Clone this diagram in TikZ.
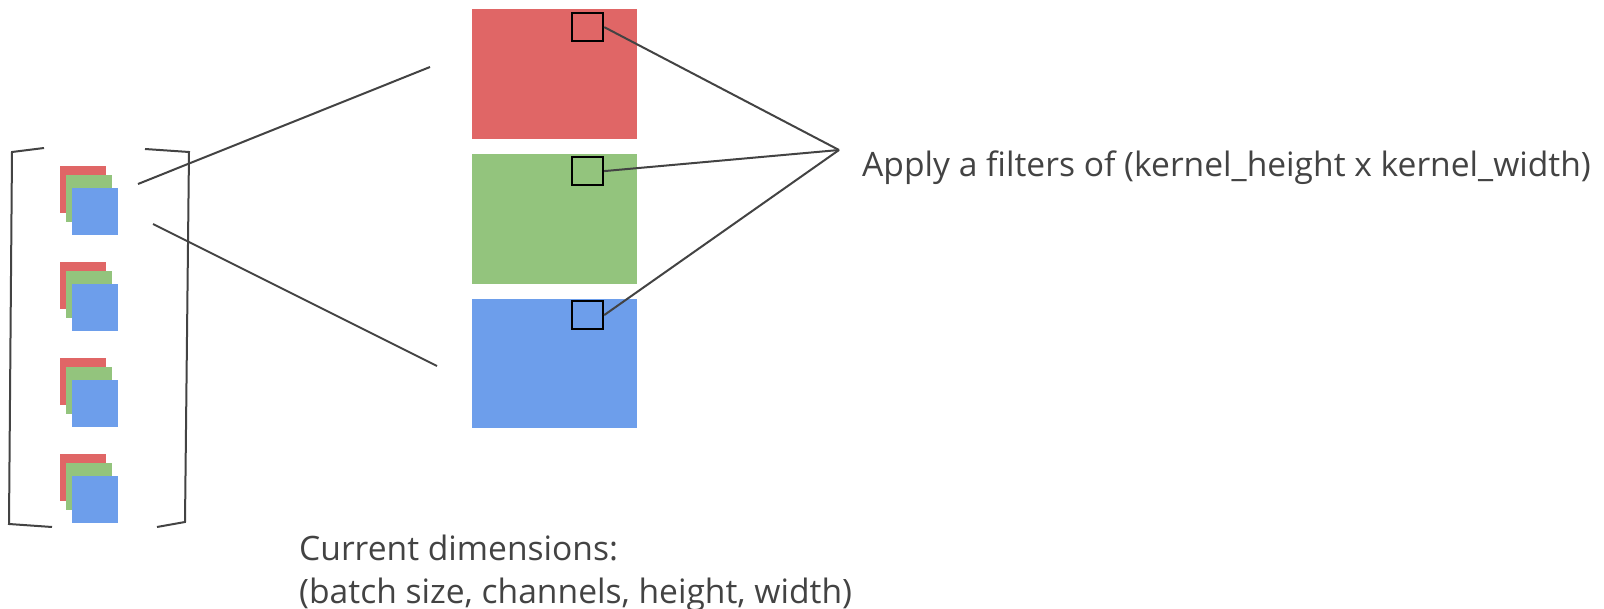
\documentclass[tikz,border=0pt]{standalone}
\usepackage{fontspec}
\setmainfont{Open Sans}
\usepackage{xcolor}
\usepackage{tikz}
\usetikzlibrary{positioning}
\definecolor{chr}{RGB}{224,102,102}
\definecolor{chg}{RGB}{147,196,125}
\definecolor{chb}{RGB}{109,158,235}
\definecolor{ink}{RGB}{67,67,67}

\begin{document}
\begin{tikzpicture}[x=1pt,y=-1pt,
  chan/.style={fill=#1,minimum width=46pt,minimum height=47pt,inner sep=0pt,anchor=north west},
  fmap/.style={fill=#1,minimum width=165pt,minimum height=130pt,inner sep=0pt,anchor=north west},
  kern/.style={draw=black,line width=2.2pt,minimum width=31pt,minimum height=28pt,inner sep=0pt,anchor=north west},
  wire/.style={draw=ink,line width=2pt},
  lbl/.style={font=\fontsize{33.6}{40}\selectfont,text=ink,inner sep=0pt,anchor=base west}]
  \useasboundingbox (0,0) rectangle (1604,609);
  % batch of images
  \foreach \i in {0,...,3}{
    \node[chan=chr] (r\i) at (60,166+96*\i) {};
    \node[chan=chg] (g\i) at (66,175+96*\i) {};
    \node[chan=chb] (b\i) at (72,188+96*\i) {};
  }
  \draw[wire] (44,148)--(12,152)--(9,524)--(52,527);
  \draw[wire] (145,149)--(189,152)--(185,522)--(157,527);
  % one image, split in channels
  \node[fmap=chr] (red) at (472,9) {};
  \node[fmap=chg] (green) at (472,154) {};
  \node[fmap=chb,minimum height=129pt] (blue) at (472,299) {};
  \node[kern] (kr) at (571,12) {};
  \node[kern] (kg) at (571,156) {};
  \node[kern] (kb) at (571,300) {};
  % zoom lines
  \coordinate (zt0) at (138,184);
  \coordinate (zt1) at (430,67);
  \coordinate (zb0) at (153,224);
  \coordinate (zb1) at (437,366);
  \draw[wire] (zt0)--(zt1);
  \draw[wire] (zb0)--(zb1);
  \coordinate (apex) at (839,150);
  \draw[wire] (kr.east)--(apex);
  \draw[wire] (kg.east)--(apex);
  \draw[wire] (kb.east)--(apex);
  % labels
  \node[lbl] (filt) at (862,177) {Apply a filters of (kernel\_height x kernel\_width)};
  \node[lbl] (dims) at (299,560) {Current dimensions:};
  \node[lbl] (shape) at (299,603) {(batch size, channels, height, width)};
\end{tikzpicture}
\end{document}
